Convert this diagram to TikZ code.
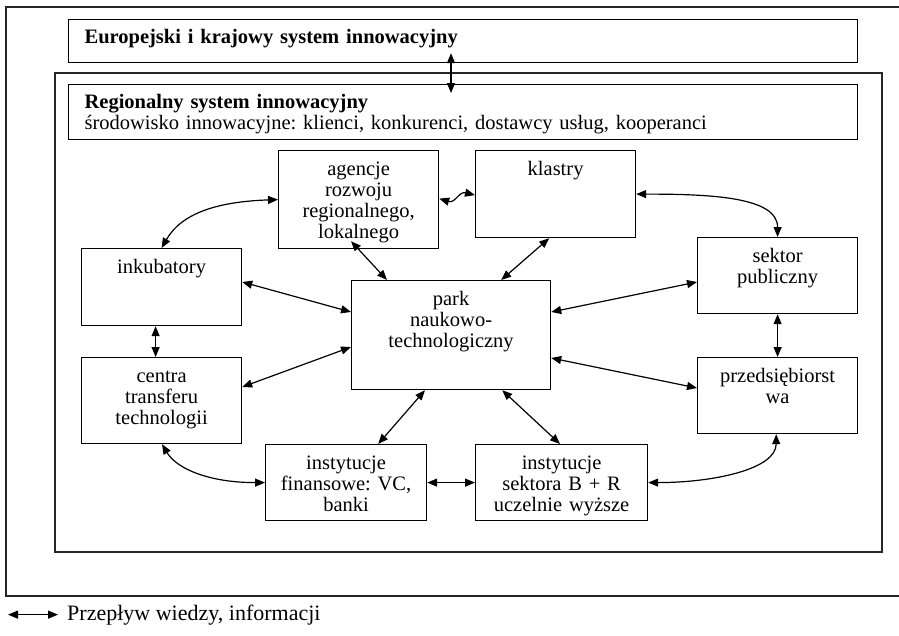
\documentclass[tikz,border=0pt]{standalone}
\usepackage{fontspec}
\setmainfont{Liberation Serif}
\usetikzlibrary{arrows.meta}
\frenchspacing

\begin{document}
\begin{tikzpicture}[
  x=1pt, y=-1pt,
  font=\fontsize{20.5}{21}\selectfont,
  ramka/.style={draw=black!85, line width=1.3pt},
  blok/.style={
    draw, line width=1.2pt, anchor=north west,
    align=center, inner sep=0pt, text height=25pt
  },
  pasek/.style={blok, align=left, inner xsep=16pt},
  strz/.style={{Triangle[length=10pt,width=8pt]}-{Triangle[length=10pt,width=8pt]}, line width=1.2pt}
]
\useasboundingbox (0,0) rectangle (899,635);

% ramy zewnetrzne
\draw[ramka] (899,7) -- (6,7) -- (6,596) -- (899,596);
\draw[ramka] (55,73) rectangle (882,552);

\node[pasek, text width=757pt, text height=24pt, text depth=19pt] (euro) at (68,19) {\bfseries Europejski i krajowy system innowacyjny};
\node[pasek, text width=757pt, text height=24pt, text depth=31pt] (region) at (68,84) {\textbf{Regionalny system innowacyjny}\\środowisko innowacyjne: klienci, konkurenci, dostawcy usług, kooperanci};

\node[blok, text width=160pt, text depth=73pt] (agencje) at (278,150) {agencje\\rozwoju\\regionalnego,\\lokalnego};
\node[blok, text width=160pt, text depth=62pt] (klastry) at (475,150) {klastry};
\node[blok, text width=160pt, text depth=52pt] (inkub) at (81,248) {inkubatory};
\node[blok, text width=199pt, text depth=84pt] (park) at (351,280) {park\\naukowo-\\technologiczny};
\node[blok, text width=160pt, text depth=51pt] (sektor) at (697,237) {sektor\\publiczny};
\node[blok, text width=160pt, text depth=61pt] (centra) at (81,357) {centra\\transferu\\technologii};
\node[blok, text width=160pt, text depth=51pt] (przeds) at (697,357) {przedsiębiorst\\wa};
\node[blok, text width=161pt, text depth=51pt] (fin) at (265,444) {instytucje\\finansowe: VC,\\banki};
\node[blok, text width=172pt, text depth=51pt] (br) at (475,444) {instytucje\\sektora B + R\\uczelnie wyższe};

% przeplywy
\draw[strz] ([xshift=383pt,yshift=10pt]euro.south west) -- ([xshift=383pt,yshift=-9pt]region.north west);
\draw[strz] (inkub.north) .. controls +(20,-35) and +(-60,2) .. (agencje.west);
\draw[strz] ([yshift=1pt]agencje.east) .. controls +(16,5) and +(-16,-4) .. ([yshift=-1pt]klastry.west);
\draw[strz] (klastry.east) .. controls +(75,0) and +(0,-40) .. (sektor.north);
\draw[strz] ([xshift=73pt,yshift=8pt]agencje.south west) -- ([xshift=36pt]park.north west);
\draw[strz] ([xshift=-87pt]klastry.south east) -- ([xshift=-50pt]park.north east);
\draw[strz] ([yshift=-34pt]inkub.north east) -- ([yshift=-32pt]park.north west);
\draw[strz] ([yshift=-30pt]centra.north east) -- ([yshift=-67pt]park.north west);
\draw[strz] ([yshift=-32pt]park.north east) -- ([yshift=-45pt]sektor.north west);
\draw[strz] ([yshift=-78pt]park.north east) -- ([yshift=-31pt]przeds.north west);
\draw[strz] ([xshift=-6pt]inkub.south) -- ([xshift=-6pt]centra.north);
\draw[strz] (sektor.south) -- (przeds.north);
\draw[strz] ([xshift=74pt]park.south west) -- ([xshift=-49pt]fin.north east);
\draw[strz] ([xshift=-49pt]park.south east) -- ([xshift=85pt]br.north west);
\draw[strz] (fin.east) -- (br.west);
\draw[strz] ([xshift=81pt]centra.south west) .. controls +(15,25) and +(-55,0) .. (fin.west);
\draw[strz] (br.east) .. controls +(65,0) and +(0,35) .. ([xshift=-82pt]przeds.south east);

% legenda
\node[font=\fontsize{22}{24}\selectfont, anchor=base west, inner sep=0pt] (legenda) at (67,620) {Przepływ wiedzy, informacji};
\draw[strz] ([xshift=-59pt]legenda.west) -- ([xshift=-9pt]legenda.west);
\end{tikzpicture}
\end{document}
